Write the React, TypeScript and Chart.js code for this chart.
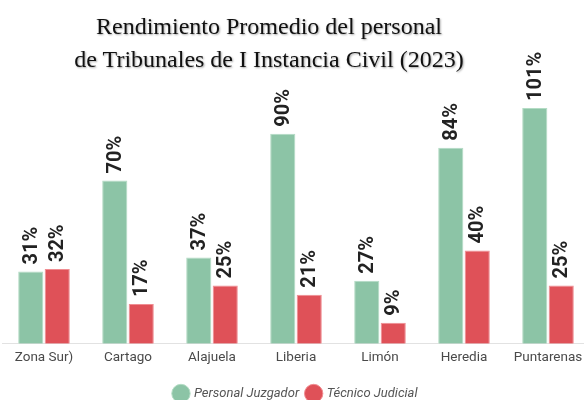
import React, { useEffect, useRef } from "react";
import { Chart, registerables } from "chart.js";

Chart.register(...registerables);

const categories = ["Zona Sur)", "Cartago", "Alajuela", "Liberia", "Limón", "Heredia", "Puntarenas"];
const personalJuzgador = [31, 70, 37, 90, 27, 84, 101];
const tecnicoJudicial = [32, 17, 25, 21, 9, 40, 25];
const seriesNames = ["Personal Juzgador", "Técnico Judicial"];
const titleLines = ["Rendimiento Promedio del personal", "de Tribunales de I Instancia Civil (2023)"];

const valueLabels = {
  id: "valueLabels",
  afterDatasetsDraw(chart: any) {
    const ctx = chart.ctx;
    ctx.save();
    ctx.font = "bold 20px Roboto";
    ctx.fillStyle = "#222";
    ctx.textAlign = "left";
    ctx.textBaseline = "middle";
    chart.data.datasets.forEach((ds: any, di: number) => {
      const meta = chart.getDatasetMeta(di);
      meta.data.forEach((bar: any, i: number) => {
        ctx.save();
        ctx.translate(bar.x + 1, bar.y - 7);
        ctx.rotate(-Math.PI / 2);
        ctx.fillText(ds.data[i] + "%", 0, 0);
        ctx.restore();
      });
    });
    ctx.restore();
  },
};

export default function App() {
  const ref = useRef<HTMLCanvasElement>(null);
  useEffect(() => {
    document.body.style.margin = "0";
    const chart = new Chart(ref.current!, {
      type: "bar",
      data: {
        labels: categories,
        datasets: [
          {
            label: seriesNames[0],
            data: personalJuzgador,
            backgroundColor: "#8cc4a6",
            borderColor: "#b3dcc4",
            borderWidth: 1,
            categoryPercentage: 0.63,
            barPercentage: 0.95,
          },
          {
            label: seriesNames[1],
            data: tecnicoJudicial,
            backgroundColor: "#df5158",
            borderColor: "#f08d92",
            borderWidth: 1,
            categoryPercentage: 0.63,
            barPercentage: 0.95,
          },
        ],
      },
      options: {
        responsive: false,
        animation: false,
        layout: { padding: { left: 2, right: 2, top: 87, bottom: -10 } },
        scales: {
          x: {
            grid: { display: false, drawTicks: false, tickLength: 0 },
            border: { display: true, color: "#e2e2e2" },
            ticks: { color: "#4a4a4a", font: { family: "Roboto", size: 13.5 }, padding: 6 },
            afterFit: (s: any) => {
              s.height += 7;
            },
          },
          y: { display: false, min: 0, max: 110 },
        },
        plugins: {
          tooltip: { enabled: false },
          legend: {
            position: "bottom",
            labels: {
              usePointStyle: true,
              pointStyle: "circle",
              boxWidth: 13,
              boxHeight: 13,
              padding: 8,
              color: "#555",
              font: { family: "Roboto", size: 13, style: "italic" },
            },
          },
        },
      },
      plugins: [valueLabels],
    });
    return () => chart.destroy();
  }, []);
  return (
    <div style={{ position: "relative", width: 584, height: 400, overflow: "hidden", background: "#fff" }}>
      <canvas ref={ref} width={592} height={400} style={{ position: "absolute", left: 0, top: 0 }} />
      <div
        style={{
          position: "absolute",
          left: 0,
          top: 10,
          width: 538,
          textAlign: "center",
          fontFamily: "'Liberation Serif', serif",
          fontSize: 24,
          lineHeight: "33px",
          color: "#111",
          textShadow: "1px 1px 2px rgba(0,0,0,0.35)",
        }}
      >
        {titleLines.map((t) => (
          <div key={t}>{t}</div>
        ))}
      </div>
    </div>
  );
}
